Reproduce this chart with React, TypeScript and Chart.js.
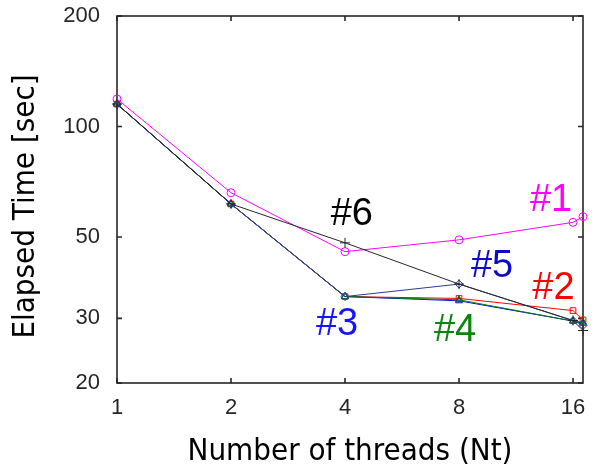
import React, { useEffect, useRef } from "react";
import { Chart, registerables } from "chart.js";

Chart.register(...registerables);

// ---- data ----
const threads = [1, 2, 4, 8, 16, 17];
const series1 = [118.8, 66.0, 45.6, 49.1, 54.8, 56.8];
const series2 = [115.1, 61.5, 34.4, 34.0, 31.5, 29.7];
const series3 = [115.1, 61.5, 34.4, 33.5, 29.5, 29.1];
const series4 = [115.1, 61.5, 34.4, 33.7, 29.5, 29.3];
const series5 = [115.1, 61.5, 34.4, 37.2, 29.6, 28.7];
const series6 = [115.1, 61.5, 48.2, 37.2, 29.6, 27.8];

const xTicks = [1, 2, 4, 8, 16];
const yTicks = [20, 30, 50, 100, 200];

const labelTexts = ["#1", "#2", "#3", "#4", "#5", "#6"];
const labelX = [14.0, 14.2, 3.81, 7.81, 9.78, 4.17];
const labelY = [63.4, 36.5, 29.1, 27.9, 41.9, 58.1];
const labelColors = ["#ff00ff", "#ff0000", "#1414ff", "#0a840a", "#0a0ac8", "#000000"];

const lineColors = ["#ff00ff", "#ff0000", "#0000ff", "#008000", "#2a3a9a", "#262626"];
const markers = ["circle", "rect", "triangle", "triangle", "rectRot", "cross"];
const allSeries = [series1, series2, series3, series4, series5, series6];

const frameColor = "#262626";

const decorPlugin = {
  id: "decor",
  beforeDatasetsDraw(chart: any) {
    const { ctx, chartArea: a, scales } = chart;
    ctx.save();
    ctx.strokeStyle = frameColor;
    ctx.lineWidth = 1.6;
    ctx.strokeRect(a.left, a.top, a.right - a.left, a.bottom - a.top);
    const tl = 5;
    ctx.beginPath();
    for (const v of xTicks) {
      const px = scales.x.getPixelForValue(v);
      ctx.moveTo(px, a.bottom);
      ctx.lineTo(px, a.bottom - tl);
      ctx.moveTo(px, a.top);
      ctx.lineTo(px, a.top + tl);
    }
    for (const v of yTicks) {
      const py = scales.y.getPixelForValue(v);
      ctx.moveTo(a.left, py);
      ctx.lineTo(a.left + tl, py);
      ctx.moveTo(a.right, py);
      ctx.lineTo(a.right - tl, py);
    }
    ctx.stroke();
    ctx.restore();
  },
  afterDraw(chart: any) {
    const { ctx, chartArea: a, scales } = chart;
    ctx.save();
    // annotations
    ctx.font = "38px 'Liberation Sans', Arial, sans-serif";
    ctx.textAlign = "center";
    ctx.textBaseline = "middle";
    for (let i = 0; i < labelTexts.length; i++) {
      ctx.fillStyle = labelColors[i];
      ctx.fillText(
        labelTexts[i],
        scales.x.getPixelForValue(labelX[i]),
        scales.y.getPixelForValue(labelY[i]) + 1
      );
    }
    // axis titles
    ctx.fillStyle = "#000000";
    ctx.font = "31px 'DejaVu Sans Condensed', 'DejaVu Sans', sans-serif";
    ctx.textAlign = "center";
    ctx.textBaseline = "alphabetic";
    ctx.fillText("Number of threads (Nt)", (a.left + a.right) / 2, 460);
    ctx.translate(34, (a.top + a.bottom) / 2 + 7);
    ctx.rotate(-Math.PI / 2);
    ctx.fillText("Elapsed Time [sec]", 0, 0);
    ctx.restore();
  },
};

export default function App() {
  const ref = useRef<HTMLCanvasElement | null>(null);

  useEffect(() => {
    if (!ref.current) return;
    const datasets = allSeries.map((s, i) => ({
      label: labelTexts[i],
      data: threads.map((t, j) => ({ x: t, y: s[j] })),
      order: allSeries.length - i,
      borderColor: lineColors[i],
      borderWidth: 1,
      pointStyle: markers[i],
      pointRadius: i === 5 ? 5 : 4,
      pointBorderColor: lineColors[i],
      pointBackgroundColor: "rgba(0,0,0,0)",
      pointBorderWidth: 1,
      tension: 0,
      fill: false,
      clip: false as any,
    }));
    const chart = new Chart(ref.current, {
      type: "line",
      data: { datasets },
      plugins: [decorPlugin],
      options: {
        responsive: false,
        animation: false,
        layout: { padding: { top: 16, right: 12, left: 0, bottom: 0 } },
        plugins: {
          legend: { display: false },
          tooltip: { enabled: false },
        },
        scales: {
          x: {
            type: "logarithmic",
            min: 1,
            max: 17,
            afterBuildTicks: (scale: any) => {
              scale.ticks = xTicks.map((v) => ({ value: v }));
            },
            afterFit: (scale: any) => {
              scale.height = 85;
              scale.paddingLeft = 0;
              scale.paddingRight = 0;
            },
            grid: { display: false, drawTicks: false },
            border: { display: false },
            ticks: {
              autoSkip: false,
              maxRotation: 0,
              padding: 12,
              color: frameColor,
              font: { family: "'Liberation Sans', Arial, sans-serif", size: 22 },
              callback: (v: any) => String(v),
            },
          },
          y: {
            type: "logarithmic",
            min: 20,
            max: 200,
            afterBuildTicks: (scale: any) => {
              scale.ticks = yTicks.map((v) => ({ value: v }));
            },
            afterFit: (scale: any) => {
              scale.width = 117;
              scale.paddingTop = 0;
              scale.paddingBottom = 0;
            },
            grid: { display: false, drawTicks: false },
            border: { display: false },
            ticks: {
              autoSkip: false,
              padding: 17,
              color: frameColor,
              font: { family: "'Liberation Sans', Arial, sans-serif", size: 22 },
              callback: (v: any) => String(v),
            },
          },
        },
      },
    } as any);
    return () => chart.destroy();
  }, []);

  return (
    <div style={{ position: "absolute", left: 0, top: 0, width: 595, height: 468, background: "#ffffff" }}>
      <canvas ref={ref} width={595} height={468} />
    </div>
  );
}
